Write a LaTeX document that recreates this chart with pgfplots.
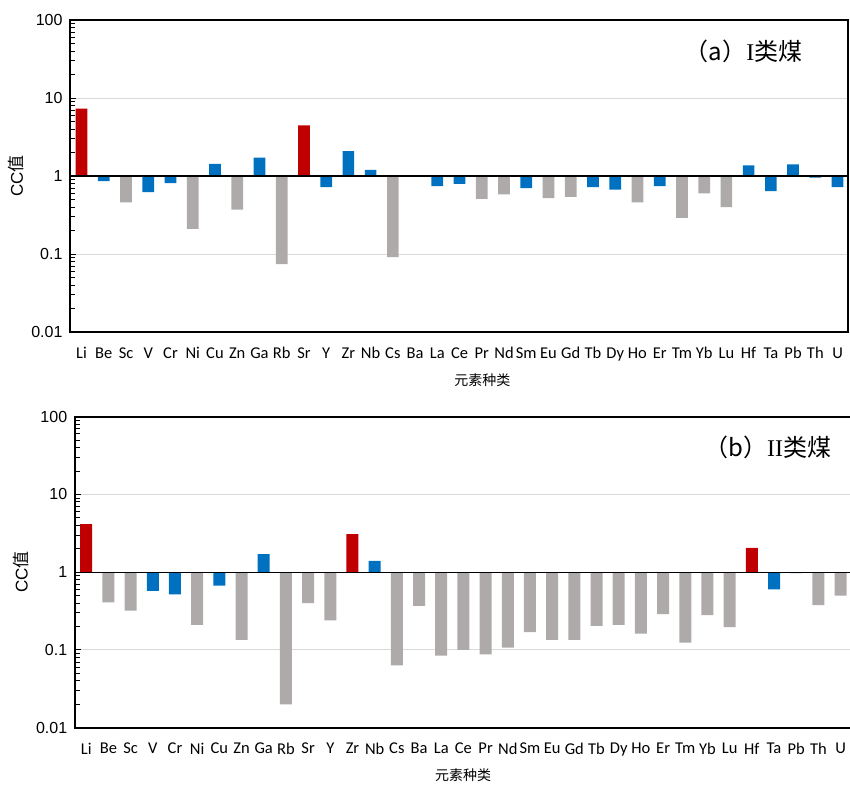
\documentclass[border=0pt]{standalone}
\usepackage{pgfplots}
\pgfplotsset{compat=1.18}
\usepackage{fontspec}
\setmainfont{Liberation Sans}
\newfontfamily\cjk{Noto Sans CJK SC}
\newfontfamily\serifI{Liberation Serif}
\newfontfamily\calib{Carlito}
\definecolor{cred}{HTML}{C00000}
\definecolor{cblue}{HTML}{0070C0}
\definecolor{cgrey}{HTML}{AEAAAA}
\definecolor{cgrid}{HTML}{D9D9D9}
\pgfplotsset{/pgf/number format/assume math mode=true}
\begin{document}
\begin{tikzpicture}
\path[use as bounding box] (0pt,0pt) rectangle (850pt,-787pt);
% ---------- (a) ----------
\begin{axis}[
    scale only axis, width=778pt, height=312pt, at={(70pt,-20pt)}, anchor=north west,
    ymode=log, ymin=0.01, ymax=100,
    xmin=-0.52, xmax=34.47,
    ytick={0.01,0.1,1,10,100},
    yticklabels={0.01,0.1,1,10,100},
    xtick={0,...,34},
    xticklabels={Li,Be,Sc,V,Cr,Ni,Cu,Zn,Ga,Rb,Sr,Y,Zr,Nb,Cs,Ba,La,Ce,Pr,Nd,Sm,Eu,Gd,Tb,Dy,Ho,Er,Tm,Yb,Lu,Hf,Ta,Pb,Th,U},
    xtick style={draw=none},
    ytick pos=left, tick align=inside,
    major tick length=6pt, minor tick length=5pt,
    ytick style={black, line width=1pt},
    yticklabel style={xshift=-4pt, font=\fontsize{16}{19}\selectfont},
    xticklabel style={yshift=-6pt, font=\calib\fontsize{16.5}{19}\selectfont},
    ymajorgrids, major grid style={cgrid, line width=1pt},
    axis line style={black, line width=1.9pt},
    ybar,
    ylabel={CC{\cjk 值}},
    ylabel style={at={(axis description cs:-0.069,0.5)}, anchor=center, font=\fontsize{17}{19}\selectfont},
    xlabel={\cjk 元素种类},
    xlabel style={at={(axis description cs:0.53,-0.154)}, anchor=center, font=\fontsize{14}{16}\selectfont},
]
\addplot[bar shift=0pt, bar width=11.7pt, draw=none, fill=cred] coordinates {(0,7.3) (10,4.46)};
\addplot[bar shift=0pt, bar width=11.7pt, draw=none, fill=cblue] coordinates {(1,0.86) (3,0.62) (4,0.81) (6,1.43) (8,1.72) (11,0.72) (12,2.09) (13,1.2) (16,0.74) (17,0.79) (20,0.70) (23,0.72) (24,0.67) (26,0.74) (30,1.37) (31,0.64) (32,1.41) (33,0.95) (34,0.72)};
\addplot[bar shift=0pt, bar width=11.7pt, draw=none, fill=cgrey] coordinates {(2,0.46) (5,0.21) (7,0.37) (9,0.074) (14,0.091) (18,0.51) (19,0.58) (21,0.52) (22,0.54) (25,0.46) (27,0.29) (28,0.60) (29,0.40)};
\addplot[sharp plot, black, line width=1.3pt, mark=none] coordinates {(-0.52,1) (34.47,1)};
\node[anchor=west, font=\fontsize{24}{28}\selectfont, inner sep=0pt] at (axis description cs:0.79,0.9) {{\cjk （a）}{\serifI I}{\cjk 类煤}};
\end{axis}
% ---------- (b) ----------
\begin{axis}[
    scale only axis, width=777pt, height=311pt, at={(74.7pt,-416.7pt)}, anchor=north west,
    ymode=log, ymin=0.01, ymax=100,
    xmin=-0.52, xmax=34.5,
    ytick={0.01,0.1,1,10,100},
    yticklabels={0.01,0.1,1,10,100},
    xtick={0,...,34},
    xticklabels={Li,Be,Sc,V,Cr,Ni,Cu,Zn,Ga,Rb,Sr,Y,Zr,Nb,Cs,Ba,La,Ce,Pr,Nd,Sm,Eu,Gd,Tb,Dy,Ho,Er,Tm,Yb,Lu,Hf,Ta,Pb,Th,U},
    xtick style={draw=none},
    ytick pos=left, tick align=inside,
    major tick length=6pt, minor tick length=5pt,
    ytick style={black, line width=1pt},
    yticklabel style={xshift=-4pt, font=\fontsize{16}{19}\selectfont},
    xticklabel style={yshift=-6pt, font=\calib\fontsize{16.5}{19}\selectfont},
    ymajorgrids, major grid style={cgrid, line width=1pt},
    axis line style={black, line width=1.9pt},
    ybar,
    ylabel={CC{\cjk 值}},
    ylabel style={at={(axis description cs:-0.069,0.5)}, anchor=center, font=\fontsize{17}{19}\selectfont},
    xlabel={\cjk 元素种类},
    xlabel style={at={(axis description cs:0.5,-0.154)}, anchor=center, font=\fontsize{14}{16}\selectfont},
]
\addplot[bar shift=0pt, bar width=12pt, draw=none, fill=cred] coordinates {(0,4.15) (12,3.1) (30,2.06)};
\addplot[bar shift=0pt, bar width=12pt, draw=none, fill=cblue] coordinates {(3,0.575) (4,0.52) (6,0.67) (8,1.71) (13,1.4) (31,0.60) (32,0.97)};
\addplot[bar shift=0pt, bar width=12pt, draw=none, fill=cgrey] coordinates {(1,0.41) (2,0.32) (5,0.21) (7,0.135) (9,0.020) (10,0.40) (11,0.24) (14,0.0635) (15,0.37) (16,0.0845) (17,0.10) (18,0.088) (19,0.107) (20,0.17) (21,0.135) (22,0.135) (23,0.204) (24,0.21) (25,0.162) (26,0.29) (27,0.124) (28,0.28) (29,0.196) (33,0.376) (34,0.50)};
\addplot[sharp plot, black, line width=1.3pt, mark=none] coordinates {(-0.52,1) (34.5,1)};
\node[anchor=west, font=\fontsize{24}{28}\selectfont, inner sep=0pt] at (axis description cs:0.81,0.9) {{\cjk （b）}{\serifI II}{\cjk 类煤}};
\end{axis}
\end{tikzpicture}
\end{document}
